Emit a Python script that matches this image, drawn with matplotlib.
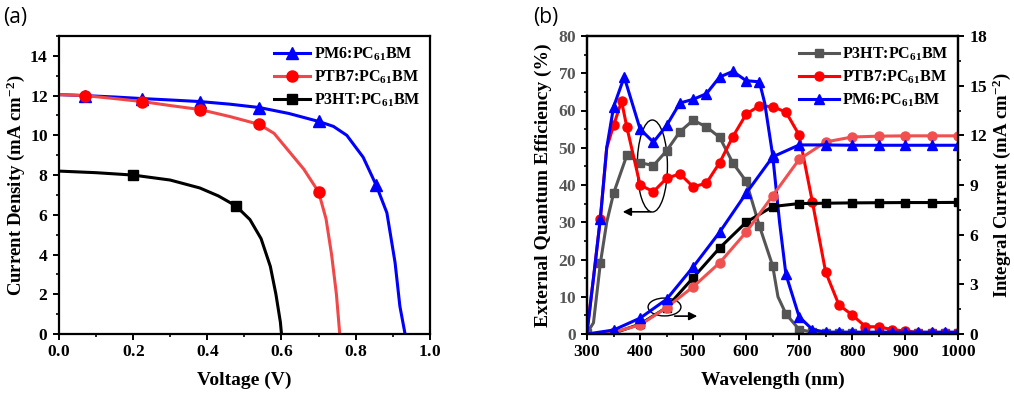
import matplotlib
matplotlib.use('Agg')
import matplotlib.pyplot as plt
from matplotlib.patches import Ellipse
from matplotlib.ticker import MultipleLocator, FuncFormatter

# ---- (a) J-V curves ----
pm6_v = [0, 0.07, 0.15, 0.225, 0.30, 0.38, 0.46, 0.54, 0.62, 0.70, 0.74, 0.776, 0.82, 0.855, 0.884, 0.906, 0.919, 0.933]
pm6_j = [12.05, 12.0, 11.93, 11.85, 11.78, 11.7, 11.57, 11.4, 11.1, 10.7, 10.45, 10.0, 8.9, 7.5, 6.1, 3.6, 1.4, 0]
ptb7_v = [0, 0.07, 0.15, 0.225, 0.30, 0.38, 0.46, 0.54, 0.58, 0.62, 0.66, 0.70, 0.72, 0.735, 0.748, 0.757]
ptb7_j = [12.05, 12.0, 11.85, 11.7, 11.5, 11.3, 10.95, 10.55, 10.1, 9.2, 8.3, 7.15, 5.8, 4.0, 2.0, 0]
p3ht_v = [0, 0.1, 0.2, 0.3, 0.38, 0.43, 0.477, 0.515, 0.545, 0.57, 0.585, 0.597, 0.60]
p3ht_j = [8.2, 8.12, 8.0, 7.75, 7.35, 6.95, 6.45, 5.76, 4.8, 3.4, 2.0, 0.6, 0]

# ---- (b) EQE ----
p3ht_wl = [300, 312, 325, 337, 350, 375, 400, 425, 450, 475, 500, 525, 550, 575, 600, 625, 650, 660,
           675, 700, 725, 750, 775, 800, 825, 850, 875, 900, 925, 950, 975, 1000]
p3ht_eqe = [0.3, 3, 19, 30, 37.8, 48, 46, 45.2, 49.2, 54.3, 57.4, 55.6, 52.8, 45.9, 41, 29, 18.3, 10,
            5.4, 1.2, 0.5, 0.4, 0.4, 0.4, 0.3, 0.3, 0.3, 0.3, 0.3, 0.3, 0.3, 0.3]
ptb7_wl = [300, 312, 325, 337, 350, 365, 375, 400, 425, 450, 475, 500, 525, 550, 575, 600, 625, 650,
           675, 700, 725, 750, 775, 800, 825, 850, 875, 900, 925, 950, 975, 1000]
ptb7_eqe = [1, 15, 31, 50, 56, 62.5, 55.5, 40, 38.2, 41.8, 43, 39.5, 40.5, 46, 53, 59, 61.3, 61,
            59.6, 53.4, 35.4, 16.6, 7.8, 5.1, 2.0, 1.9, 1.2, 0.8, 0.4, 0.3, 0.3, 0.3]
pm6_wl = [300, 312, 325, 337, 350, 370, 400, 425, 450, 475, 500, 525, 550, 575, 600, 625, 635, 650,
          663, 675, 700, 725, 750, 775, 800, 825, 850, 875, 900, 925, 950, 975, 1000]
pm6_eqe = [0.5, 15, 31, 50, 61, 69, 55, 51.5, 56, 62, 63, 64.5, 69, 70.5, 68, 67.7, 62, 48,
           30, 16, 4.6, 1.2, 0.5, 0.5, 0.5, 0.5, 0.5, 0.5, 0.5, 0.5, 0.5, 0.5, 0.5]

# ---- (b) integral current ----
int_wl = [300, 350, 400, 450, 500, 550, 600, 650, 700, 750, 800, 850, 900, 950, 1000]
p3ht_int = [0, 0.05, 0.6, 1.6, 3.4, 5.2, 6.75, 7.7, 7.88, 7.9, 7.92, 7.93, 7.94, 7.94, 7.95]
ptb7_int = [0, 0.1, 0.55, 1.6, 2.85, 4.3, 6.15, 8.35, 10.55, 11.6, 11.9, 11.95, 11.97, 11.97, 11.97]
pm6_int = [0, 0.24, 0.96, 2.1, 4.05, 6.15, 8.5, 10.7, 11.42, 11.42, 11.4, 11.4, 11.4, 11.4, 11.4]

label_p3ht = 'P3HT:PC$_{61}$BM'
label_ptb7 = 'PTB7:PC$_{61}$BM'
label_pm6 = 'PM6:PC$_{61}$BM'

plt.rcParams.update({
    'font.family': 'Liberation Serif',
    'font.weight': 'bold',
    'axes.labelweight': 'bold',
    'font.size': 12,
    'mathtext.fontset': 'custom',
    'mathtext.rm': 'Liberation Serif:bold',
    'mathtext.it': 'Liberation Serif:bold',
    'mathtext.bf': 'Liberation Serif:bold',
    'axes.linewidth': 1.6,
    'xtick.major.width': 1.4,
    'ytick.major.width': 1.4,
    'xtick.minor.width': 1.2,
    'ytick.minor.width': 1.2,
    'xtick.major.size': 4,
    'ytick.major.size': 4,
    'xtick.minor.size': 2.5,
    'ytick.minor.size': 2.5,
})

# bold tick labels through mathtext
fmt_1f = FuncFormatter(lambda v, pos: '$%.1f$' % v)
fmt_int = FuncFormatter(lambda v, pos: '$%d$' % round(v))

fig = plt.figure(figsize=(10.14, 4.0), dpi=100)
ax1 = fig.add_axes([0.058, 0.165, 0.366, 0.745])
ax2 = fig.add_axes([0.579, 0.165, 0.366, 0.745])

# panel (a)
ax1.plot(pm6_v, pm6_j, color='#0000ff', lw=2.2, marker='^', ms=8,
         markevery=[1, 3, 5, 7, 9, 13], label=label_pm6)
ax1.plot(ptb7_v, ptb7_j, color='#f04848', lw=2.2, marker='o', ms=8, mfc='#ff0000', mec='#ff0000',
         markevery=[1, 3, 5, 7, 11], label=label_ptb7)
ax1.plot(p3ht_v, p3ht_j, color='black', lw=2.2, marker='s', ms=7,
         markevery=[2, 6], label=label_p3ht)
ax1.set_xlim(0, 1.0)
ax1.set_ylim(0, 15)
ax1.xaxis.set_major_locator(MultipleLocator(0.2))
ax1.xaxis.set_minor_locator(MultipleLocator(0.1))
ax1.yaxis.set_major_locator(MultipleLocator(2))
ax1.yaxis.set_minor_locator(MultipleLocator(1))
ax1.xaxis.set_major_formatter(fmt_1f)
ax1.yaxis.set_major_formatter(fmt_int)
ax1.set_xlabel('Voltage (V)', fontsize=14, fontweight='bold', labelpad=8)
ax1.set_ylabel('Current Density (mA cm$^{-2}$)', fontsize=13.5, fontweight='bold', labelpad=2)
ax1.legend(loc='upper right', frameon=False, prop={'weight': 'bold', 'size': 11.5}, handlelength=2.3,
           handletextpad=0.2, borderaxespad=0.2, labelspacing=0.35)

# panel (b)
ax2.plot(p3ht_wl, p3ht_eqe, color='#555555', lw=2.2, marker='s', ms=6,
         markevery=[i for i in range(len(p3ht_wl)) if p3ht_wl[i] not in (312, 337, 660)], label=label_p3ht)
ax2.plot(ptb7_wl, ptb7_eqe, color='#ff0000', lw=2.2, marker='o', ms=6.5,
         markevery=[i for i in range(len(ptb7_wl)) if ptb7_wl[i] not in (312, 337, 300)], label=label_ptb7)
ax2.plot(pm6_wl, pm6_eqe, color='#0000ff', lw=2.2, marker='^', ms=6.5,
         markevery=[i for i in range(len(pm6_wl)) if pm6_wl[i] not in (312, 337, 300, 635, 663)], label=label_pm6)
ax2.set_xlim(300, 1000)
ax2.set_ylim(0, 80)
ax2.xaxis.set_major_locator(MultipleLocator(100))
ax2.xaxis.set_minor_locator(MultipleLocator(50))
ax2.yaxis.set_major_locator(MultipleLocator(10))
ax2.yaxis.set_minor_locator(MultipleLocator(5))
ax2.xaxis.set_major_formatter(fmt_int)
ax2.yaxis.set_major_formatter(fmt_int)
ax2.set_xlabel('Wavelength (nm)', fontsize=14, fontweight='bold', labelpad=8)
ax2.set_ylabel('External Quantum Efficiency (%)', fontsize=14, fontweight='bold', labelpad=4)
ax2.legend(loc='upper right', frameon=False, prop={'weight': 'bold', 'size': 11.5}, handlelength=2.5,
           handletextpad=0.2, borderaxespad=0.2, labelspacing=0.35)

ax3 = ax2.twinx()
ax3.plot(int_wl, p3ht_int, color='black', lw=2.2, marker='s', ms=6, markevery=list(range(2, 15)))
ax3.plot(int_wl, ptb7_int, color='#f05050', lw=2.2, marker='o', ms=6.5, markevery=list(range(1, 15)))
ax3.plot(int_wl, pm6_int, color='#0000ff', lw=2.2, marker='^', ms=6.5, markevery=list(range(1, 15)))
ax3.set_ylim(0, 18)
ax3.yaxis.set_major_locator(MultipleLocator(3))
ax3.yaxis.set_minor_locator(MultipleLocator(1.5))
ax3.yaxis.set_major_formatter(fmt_int)
ax3.set_ylabel('Integral Current (mA cm$^{-2}$)', fontsize=13.5, fontweight='bold', labelpad=2)

# ellipses and arrows
ax2.add_patch(Ellipse((423, 45.1), 57, 24.7, fill=False, color='black', lw=1))
ax2.annotate('', xy=(362, 32.8), xytext=(425, 32.8),
             arrowprops=dict(arrowstyle='-|>', color='black', lw=1.2, mutation_scale=12))
ax2.add_patch(Ellipse((446, 7.25), 62, 4.8, fill=False, color='black', lw=1))
ax2.annotate('', xy=(513, 4.8), xytext=(460, 4.8),
             arrowprops=dict(arrowstyle='-|>', color='black', lw=1.2, mutation_scale=12))

for ax in (ax1, ax2, ax3):
    ax.tick_params(which='both', direction='out', labelsize=12.5)
ax2.tick_params(axis='y', labelcolor='#555555')

fig.text(0.003, 0.955, '(a)', fontsize=15, family='Open Sans', weight='normal', va='center')
fig.text(0.526, 0.955, '(b)', fontsize=15, family='Open Sans', weight='normal', va='center')

fig.savefig('out.png', dpi=100)
